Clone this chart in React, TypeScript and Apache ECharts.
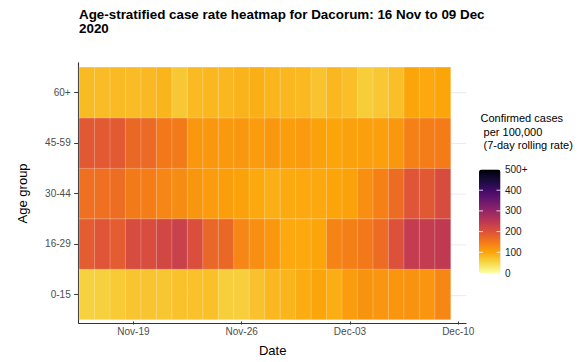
import React, { useEffect, useRef } from "react";
import * as echarts from "echarts";

const dates = [
  "Nov-16", "Nov-17", "Nov-18", "Nov-19", "Nov-20", "Nov-21", "Nov-22", "Nov-23",
  "Nov-24", "Nov-25", "Nov-26", "Nov-27", "Nov-28", "Nov-29", "Nov-30", "Dec-01",
  "Dec-02", "Dec-03", "Dec-04", "Dec-05", "Dec-06", "Dec-07", "Dec-08", "Dec-09",
  "Dec-10",
];
const tickDates = ["Nov-19", "Nov-26", "Dec-03", "Dec-10"];
const ageGroups = ["0-15", "16-29", "30-44", "45-59", "60+"];

const age0_15 = [55, 57, 63, 68, 68, 67, 71, 71, 73, 58, 59, 72, 82, 85, 93, 100, 92, 110, 120, 117, 118, 120, 118, 133];
const age16_29 = [185, 195, 185, 210, 208, 218, 230, 205, 172, 170, 135, 125, 115, 97, 97, 100, 138, 142, 150, 165, 200, 240, 240, 245];
const age30_44 = [160, 160, 163, 148, 145, 135, 128, 117, 110, 108, 103, 97, 90, 95, 97, 97, 100, 103, 125, 140, 165, 195, 190, 210];
const age45_59 = [190, 188, 188, 170, 168, 150, 148, 115, 115, 113, 115, 110, 115, 108, 112, 103, 100, 105, 107, 107, 115, 140, 145, 147];
const age60plus = [78, 77, 79, 77, 80, 84, 65, 79, 82, 82, 86, 90, 85, 82, 81, 70, 82, 75, 60, 66, 75, 100, 97, 100];

const legendBreaks = [0, 100, 200, 300, 400, 500];
const legendLabels = ["0", "100", "200", "300", "400", "500+"];

const infernoRev = [
  "#fcffa4", "#f6d746", "#fca50a", "#f37819", "#dd513a", "#bc3754",
  "#932667", "#6a176e", "#420a68", "#160b39", "#000004",
];

const FONT = "'Liberation Sans', Arial, sans-serif";

export default function App() {
  const ref = useRef<HTMLDivElement>(null);
  useEffect(() => {
    if (!ref.current) return;
    const chart = echarts.init(ref.current, undefined, { renderer: "svg" });
    const rows = [age0_15, age16_29, age30_44, age45_59, age60plus];
    const heatData: number[][] = [];
    rows.forEach((vals, yi) => vals.forEach((v, xi) => heatData.push([xi, yi, v])));

    const showTick = (_i: number, v: string) => tickDates.includes(v);

    const barTop = 169.5;
    const barH = 103.5;
    const barLeft = 479;
    const barW = 21.5;
    const yOf = (v: number) => barTop + barH - (v / 500) * barH;

    const graphics: any[] = [
      {
        type: "text",
        x: 480.5,
        y: 111.5,
        style: {
          text: "Confirmed cases\n per 100,000\n (7-day rolling rate)",
          fontSize: 11,
          lineHeight: 13.5,
          fontFamily: FONT,
          fill: "#000",
          verticalAlign: "top",
        },
        z: 10,
      },
    ];
    legendBreaks.forEach((b, i) => {
      const y = yOf(b);
      graphics.push({
        type: "text",
        x: 505,
        y,
        style: {
          text: legendLabels[i],
          fontSize: 10,
          fontFamily: FONT,
          fill: "#1a1a1a",
          verticalAlign: "middle",
        },
        z: 10,
      });
      if (b > 0 && b < 500) {
        graphics.push({
          type: "line",
          shape: { x1: barLeft, y1: y, x2: barLeft + 4, y2: y },
          style: { stroke: "rgba(255,255,255,0.8)", lineWidth: 1 },
          z: 10,
        });
        graphics.push({
          type: "line",
          shape: { x1: barLeft + barW - 4, y1: y, x2: barLeft + barW, y2: y },
          style: { stroke: "rgba(255,255,255,0.8)", lineWidth: 1 },
          z: 10,
        });
      }
    });

    const gridSeries = ageGroups.map((g, i) => ({
      type: "line",
      name: "grid-" + g,
      xAxisIndex: 1,
      yAxisIndex: 1,
      data: [
        [0, i + 0.5],
        [25, i + 0.5],
      ],
      symbol: "none",
      silent: true,
      lineStyle: { color: "#ebebeb", width: 1 },
      z: 1,
    }));

    chart.setOption({
      animation: false,
      textStyle: { fontFamily: FONT },
      title: {
        text: "Age-stratified case rate heatmap for Dacorum: 16 Nov to 09 Dec\n2020",
        left: 79,
        top: 7,
        padding: 0,
        textStyle: { fontSize: 13.4, fontWeight: "bold", lineHeight: 14, color: "#000", fontFamily: FONT },
      },
      grid: [
        { left: 79.3, right: 120, top: 67.3, bottom: 41 },
        { left: 78.7, right: 120, top: 62.7, bottom: 39 },
      ],
      xAxis: [
        {
          type: "category",
          gridIndex: 0,
          data: dates,
          offset: 2,
          axisLine: { show: false },
          axisTick: { show: true, alignWithLabel: true, interval: showTick, length: 3, lineStyle: { color: "#333" } },
          axisLabel: { interval: showTick, margin: 5, fontSize: 10, color: "#4d4d4d", fontFamily: FONT },
          splitLine: { show: false },
          name: "Date",
          nameLocation: "middle",
          nameGap: 22.5,
          nameTextStyle: { fontSize: 13, color: "#000", fontFamily: FONT },
        },
        {
          type: "value",
          gridIndex: 1,
          min: -0.039,
          max: 25,
          axisLine: { show: true, onZero: false, lineStyle: { color: "#333", width: 1.1 } },
          axisTick: { show: false },
          axisLabel: { show: false },
          splitLine: { show: false },
        },
      ],
      yAxis: [
        {
          type: "category",
          gridIndex: 0,
          data: ageGroups,
          offset: 0.6,
          axisLine: { show: false },
          axisTick: { show: true, alignWithLabel: true, length: 4.5, lineStyle: { color: "#333" } },
          axisLabel: { margin: 8, fontSize: 10, color: "#4d4d4d", fontFamily: FONT },
          splitLine: { show: false },
          name: "Age group",
          nameLocation: "middle",
          nameGap: 50,
          nameTextStyle: { fontSize: 13, color: "#000", fontFamily: FONT },
        },
        {
          type: "value",
          gridIndex: 1,
          min: -0.039,
          max: 5.091,
          axisLine: { show: true, onZero: false, lineStyle: { color: "#333", width: 1.1 } },
          axisTick: { show: false },
          axisLabel: { show: false },
          splitLine: { show: false },
        },
      ],
      visualMap: {
        type: "continuous",
        min: 0,
        max: 500,
        seriesIndex: 0,
        calculable: false,
        left: barLeft,
        top: barTop,
        padding: 0,
        itemWidth: barW,
        itemHeight: barH,
        inRange: { color: infernoRev },
        textStyle: { fontSize: 0 },
      },
      graphic: graphics,
      series: [
        {
          type: "heatmap",
          xAxisIndex: 0,
          yAxisIndex: 0,
          data: heatData,
          itemStyle: { borderColor: "rgba(255,255,255,0.3)", borderWidth: 0.8 },
          emphasis: { disabled: true },
          z: 2,
        },
        ...gridSeries,
      ],
    });
    return () => chart.dispose();
  }, []);
  return (
    <div
      ref={ref}
      style={{ position: "fixed", left: 0, top: 0, width: 586, height: 362, background: "#fff" }}
    />
  );
}
